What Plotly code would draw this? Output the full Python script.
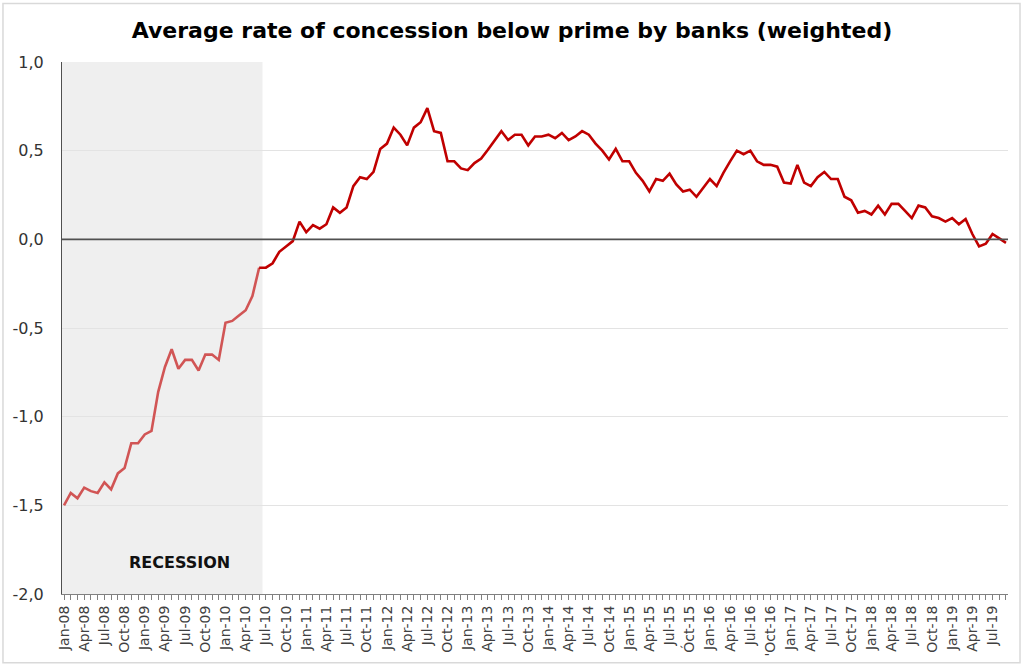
import plotly.graph_objects as go

month_names = ["Jan", "Feb", "Mar", "Apr", "May", "Jun", "Jul", "Aug", "Sep", "Oct", "Nov", "Dec"]
months = [f"{m}-{y:02d}" for y in range(8, 20) for m in month_names][:141]

tick_labels = [
    "Jan-08", "Apr-08", "Jul-08", "Oct-08", "Jan-09", "Apr-09", "Jul-09", "Oct-09",
    "Jan-10", "Apr-10", "Jul-10", "Oct-10", "Jan-11", "Apr-11", "Jul-11", "Oct-11",
    "Jan-12", "Apr-12", "Jul-12", "Oct-12", "Jan-13", "Apr-13", "Jul-13", "Oct-13",
    "Jan-14", "Apr-14", "Jul-14", "Oct-14", "Jan-15", "Apr-15", "Jul-15", "Óct-15",
    "Jan-16", "Apr-16", "Jul-16", "'Oct-16", "Jan-17", "Apr-17", "Jul-17", "Oct-17",
    "Jan-18", "Apr-18", "Jul-18", "Oct-18", "Jan-19", "Apr-19", "Jul-19",
]

# Jan-08 .. Jun-10 (recession period)
recession_values = [
    -1.50, -1.43, -1.46, -1.40, -1.42, -1.43, -1.37, -1.41, -1.32, -1.29,
    -1.15, -1.15, -1.10, -1.08, -0.86, -0.72, -0.62, -0.73, -0.68, -0.68,
    -0.74, -0.65, -0.65, -0.68, -0.47, -0.46, -0.43, -0.40, -0.32, -0.16,
]
# Jul-10 .. Sep-19
later_values = [
    -0.16, -0.135, -0.07, -0.04, -0.01, 0.10, 0.04, 0.08, 0.06, 0.085,
    0.18, 0.15, 0.18, 0.30, 0.35, 0.34, 0.38, 0.51, 0.54, 0.63,
    0.59, 0.53, 0.63, 0.66, 0.74, 0.61, 0.60, 0.44, 0.44, 0.40,
    0.39, 0.43, 0.455, 0.505, 0.56, 0.61, 0.56, 0.59, 0.59, 0.53,
    0.58, 0.58, 0.59, 0.57, 0.60, 0.56, 0.58, 0.61, 0.59, 0.54,
    0.50, 0.45, 0.51, 0.44, 0.44, 0.375, 0.33, 0.27, 0.34, 0.33,
    0.37, 0.31, 0.27, 0.28, 0.24, 0.29, 0.34, 0.30, 0.375, 0.44,
    0.50, 0.48, 0.50, 0.44, 0.42, 0.42, 0.41, 0.32, 0.315, 0.42,
    0.32, 0.30, 0.35, 0.38, 0.34, 0.34, 0.24, 0.22, 0.15, 0.16,
    0.14, 0.19, 0.14, 0.20, 0.20, 0.16, 0.12, 0.19, 0.18, 0.13,
    0.12, 0.10, 0.12, 0.085, 0.115, 0.03, -0.04, -0.025, 0.03, 0.005,
    -0.02,
]

y_ticks = [1.0, 0.5, 0.0, -0.5, -1.0, -1.5, -2.0]
y_tick_labels = ["1,0", "0,5", "0,0", "-0,5", "-1,0", "-1,5", "-2,0"]

x_all = list(range(len(months)))
n_rec = len(recession_values)
x_rec = x_all[:n_rec]
x_later = x_all[n_rec:]
# connect the two segments
x_later_plot = [x_rec[-1]] + x_later
y_later_plot = [recession_values[-1]] + later_values

FONT = "DejaVu Sans"

fig = go.Figure()

fig.add_shape(type="rect", xref="x", yref="paper", x0=-0.5, x1=n_rec - 0.5, y0=0, y1=1,
              fillcolor="#efefef", line_width=0, layer="below")

fig.add_trace(go.Scatter(x=x_rec, y=recession_values, mode="lines",
                         line=dict(color="#d15555", width=2.6), hoverinfo="skip",
                         showlegend=False))
fig.add_trace(go.Scatter(x=x_later_plot, y=y_later_plot, mode="lines",
                         line=dict(color="#c00000", width=2.6), showlegend=False))

# zero line
fig.add_shape(type="line", xref="paper", yref="y", x0=0, x1=1, y0=0, y1=0,
              line=dict(color="#505050", width=1.6))

fig.add_annotation(text="<b>RECESSION</b>", xref="paper", yref="y", x=0.1237, y=-1.82,
                   xanchor="center", yanchor="middle",
                   showarrow=False, font=dict(family=FONT, size=16, color="#111111"))

# chart border
fig.add_shape(type="rect", xref="paper", yref="paper", x0=-0.0624, x1=1.0127, y0=-0.129, y1=1.110,
              line=dict(color="#d9d9d9", width=1.5), fillcolor="rgba(0,0,0,0)")

fig.update_layout(
    width=1024, height=669,
    margin=dict(l=62, r=16, t=62, b=73),
    paper_bgcolor="white", plot_bgcolor="white",
    title=dict(text="<b>Average rate of concession below prime by banks (weighted)</b>",
               x=0.5, xanchor="center", y=0.955, yanchor="middle",
               font=dict(family=FONT, size=22, color="#000000")),
    font=dict(family=FONT, color="#404040"),
)

fig.update_xaxes(
    range=[-0.3, len(months) - 0.7],
    tickmode="array", tickvals=x_all[::3], ticktext=tick_labels,
    tickangle=-90, tickfont=dict(size=14, color="#404040"),
    ticks="outside", ticklen=5, tickcolor="#808080",
    minor=dict(dtick=1, ticks="outside", ticklen=5, tickcolor="#808080", showgrid=False),
    showgrid=False, zeroline=False,
    showline=True, linecolor="#808080", linewidth=1,
)
fig.update_yaxes(
    range=[-2.0, 1.0],
    tickmode="array", tickvals=y_ticks, ticktext=y_tick_labels,
    tickfont=dict(size=16, color="#333333"),
    ticks="", ticklabelstandoff=14,
    showgrid=True, gridcolor="#e3e3e3", gridwidth=1,
    zeroline=False,
    showline=True, linecolor="#505050", linewidth=1.2,
)

fig.write_html("out.html", config={"displayModeBar": False})

# remove the default page margin so the figure sits at the window's top-left corner
with open("out.html", "r", encoding="utf-8") as f:
    html = f.read()
html = html.replace("<head>", "<head><style>html,body{margin:0;padding:0;overflow:hidden;}</style>", 1)
with open("out.html", "w", encoding="utf-8") as f:
    f.write(html)
